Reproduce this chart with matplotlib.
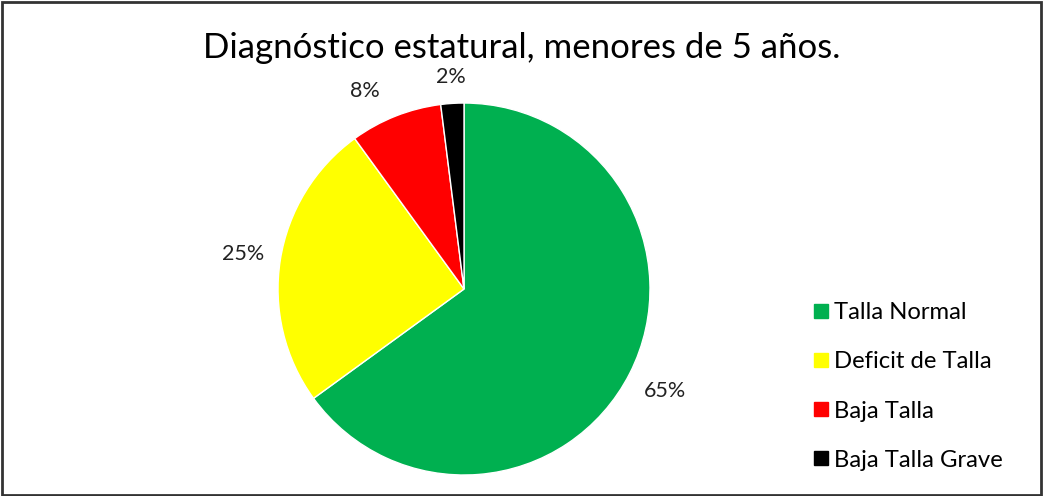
import numpy as np
import matplotlib.pyplot as plt
from matplotlib.lines import Line2D
from matplotlib.patches import Rectangle

plt.rcParams['font.family'] = ['Lato', 'DejaVu Sans']

# data
categorias = ['Talla Normal', 'Deficit de Talla', 'Baja Talla', 'Baja Talla Grave']
valores = [65, 25, 8, 2]
colores = ['#00B050', '#FFFF00', '#FF0000', '#000000']

fig = plt.figure(figsize=(10.44, 4.96), dpi=100)
ax = fig.add_axes([0.2663, 0.0423, 0.3563, 0.75])

wedges, texts, autotexts = ax.pie(valores, colors=colores, startangle=90, counterclock=False,
                                  autopct='%1.0f%%', pctdistance=1.2,
                                  wedgeprops=dict(edgecolor='white', linewidth=1),
                                  textprops=dict(fontsize=15.5, color='#222222'))
# label distance / angle nudge per slice, like the reference
dist = [1.21, 1.2, 1.19, 1.14]
nudge = [0, 0, 5, 0]
for w, t, d, n in zip(wedges, autotexts, dist, nudge):
    ang = np.deg2rad((w.theta1 + w.theta2) / 2 + n)
    t.set_position((d * np.cos(ang), d * np.sin(ang)))
ax.set_xlim(-1, 1)
ax.set_ylim(-1, 1)
ax.set_aspect('equal')

fig.suptitle('Diagnóstico estatural, menores de 5 años.', fontsize=25, y=0.903, va='center')

# legend
handles = [Line2D([], [], marker='s', linestyle='', markersize=10, color=c) for c in colores]
fig.legend(handles, categorias, loc='upper left', bbox_to_anchor=(0.757, 0.434),
           frameon=False, fontsize=17.2, handletextpad=0.12, labelspacing=1.18,
           handlelength=0.8)

# outer border
fig.add_artist(Rectangle((0.002, 0.003), 0.995, 0.993, transform=fig.transFigure,
                         fill=False, edgecolor='#333333', linewidth=2))

fig.savefig('out.png', dpi=100)
